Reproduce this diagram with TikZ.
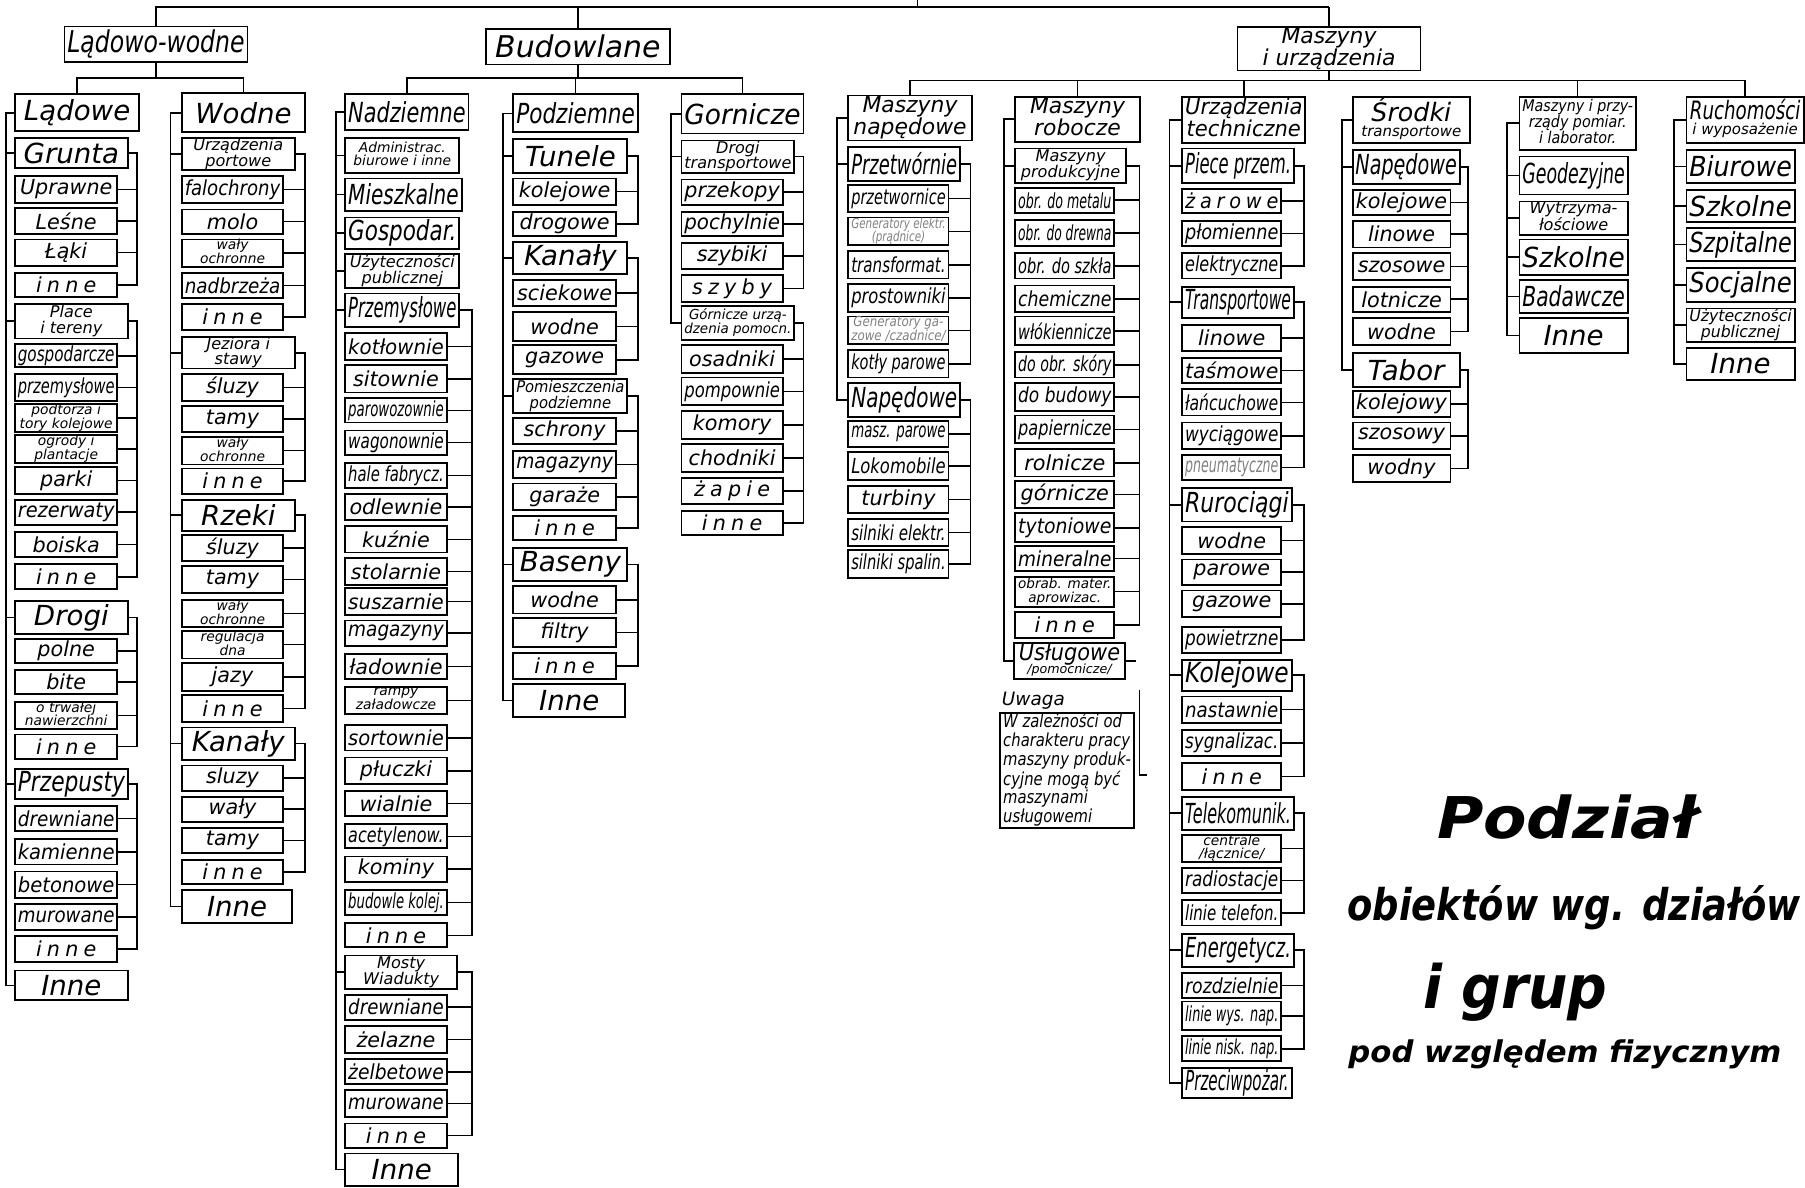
\documentclass[tikz,border=0pt]{standalone}
\usepackage{fontspec}
\usepackage{graphicx}
\setmainfont{DejaVu Sans}[ItalicFont={DejaVu Sans Oblique},BoldFont={DejaVu Sans Bold},BoldItalicFont={DejaVu Sans Bold Oblique}]
\newsavebox\fitbox
\newcommand\fitw[2]{\sbox\fitbox{#2}\ifdim\wd\fitbox>#1\relax\resizebox{#1}{\height}{\usebox\fitbox}\else\usebox\fitbox\fi}
\newcommand\fsz[1]{\fontsize{#1}{#1}\selectfont}
\newcommand\mlines[1]{{\renewcommand\arraystretch{0.8}\begin{tabular}{@{}c@{}}#1\end{tabular}}}
\newcommand\lsp[1]{{\addfontfeature{LetterSpace=25}#1}}
\newcommand\bxx[7]{%
  \pgfmathsetmacro\bxW{(#4-#2)*0.5}%
  \pgfmathsetmacro\bxH{(#5-#3)*0.5}%
  \pgfmathsetmacro\bxT{(#4-#2)*0.5-2.5}%
  \node[bx,#6,minimum width=\bxW pt,minimum height=\bxH pt] (#1) at ({(#2+#4)/2},{(#3+#5)/2}) {\fitw{\bxT pt}{#7}};}
\newcommand\lbus[3]{\foreach \n in {#3}{\draw[ln] (\n.west) -- (\n.west -| #2) |- (#1.west);}}
\newcommand\rbus[3]{\foreach \n in {#3}{\draw[ln] (\n.east) -- (\n.east -| #2) |- (#1.east);}}
\tikzset{
  bx/.style={draw,line width=0.8pt,inner sep=0pt,outer sep=0pt},
  ln/.style={line width=0.7pt},
  fHD/.style={font={\fsz{13}\itshape}},
  fH/.style={font={\fsz{12}\itshape}},
  fN/.style={font={\fsz{9}\itshape}},
  fS/.style={font={\fsz{6}\itshape}},
  fSM/.style={font={\fsz{7}\itshape}},
  fM/.style={font={\fsz{9.5}\itshape}},
  fU/.style={font={\fontsize{7.8}{7.6}\selectfont\itshape}},
  fT/.style={font={\bfseries\itshape},inner sep=0pt,anchor=base west},
  faded/.style={text=black!50},
}
\begin{document}
\begin{tikzpicture}[x=0.5pt,y=-0.5pt]
\useasboundingbox (0,0) rectangle (1568,1032);
% ---------- top level
\bxx{LW}{56}{23}{215}{54}{fHD}{Lądowo-wodne}
\bxx{BU}{422}{25}{582}{56}{fHD}{Budowlane}
\bxx{MU}{1075}{27}{1234}{58}{fM}{\mlines{Maszyny\\i urządzenia}}
% ---------- Ladowe
\bxx{LAD}{13}{82}{121}{114}{fH}{Lądowe}
\bxx{A1}{13}{120}{111}{146}{fH}{Grunta}
\bxx{A1a}{13}{153}{102}{176}{fN}{Uprawne}
\bxx{A1b}{13}{181}{102}{203}{fN}{Leśne}
\bxx{A1c}{13}{208}{102}{231}{fN}{Łąki}
\bxx{A1d}{13}{237}{102}{258}{fN}{\lsp{inne}}
\bxx{A2}{13}{264}{111}{294}{fSM}{\mlines{Place\\i tereny}}
\bxx{A2a}{13}{299}{102}{319}{fN}{gospodarcze}
\bxx{A2b}{13}{325}{102}{348}{fN}{przemysłowe}
\bxx{A2c}{13}{352}{102}{374}{fS}{\mlines{podtorza i\\tory kolejowe}}
\bxx{A2d}{13}{379}{102}{401}{fS}{\mlines{ogrody i\\plantacje}}
\bxx{A2e}{13}{406}{102}{429}{fN}{parki}
\bxx{A2f}{13}{434}{102}{456}{fN}{rezerwaty}
\bxx{A2g}{13}{462}{102}{484}{fN}{boiska}
\bxx{A2h}{13}{490}{102}{512}{fN}{\lsp{inne}}
\bxx{A3}{13}{522}{111}{551}{fH}{Drogi}
\bxx{A3a}{13}{555}{102}{576}{fN}{polne}
\bxx{A3b}{13}{582}{102}{603}{fN}{bite}
\bxx{A3c}{13}{610}{102}{633}{fS}{\mlines{o trwałej\\nawierzchni}}
\bxx{A3d}{13}{638}{102}{659}{fN}{\lsp{inne}}
\bxx{A4}{13}{668}{111}{694}{fH}{Przepusty}
\bxx{A4a}{13}{700}{102}{722}{fN}{drewniane}
\bxx{A4b}{13}{729}{102}{751}{fN}{kamienne}
\bxx{A4c}{13}{757}{102}{780}{fN}{betonowe}
\bxx{A4d}{13}{785}{102}{808}{fN}{murowane}
\bxx{A4e}{13}{813}{102}{836}{fN}{\lsp{inne}}
\bxx{A5}{13}{843}{111}{869}{fH}{Inne}
% ---------- Wodne
\bxx{WOD}{158}{81}{265}{115}{fH}{Wodne}
\bxx{B1}{158}{120}{256}{148}{fSM}{\mlines{Urządzenia\\portowe}}
\bxx{B1a}{158}{153}{246}{176}{fN}{falochrony}
\bxx{B1b}{158}{182}{246}{203}{fN}{molo}
\bxx{B1c}{158}{209}{246}{231}{fS}{\mlines{wały\\ochronne}}
\bxx{B1d}{158}{237}{246}{259}{fN}{nadbrzeża}
\bxx{B1e}{158}{264}{246}{287}{fN}{\lsp{inne}}
\bxx{B2}{158}{293}{256}{320}{fSM}{\mlines{Jeziora i\\stawy}}
\bxx{B2a}{158}{325}{246}{348}{fN}{śluzy}
\bxx{B2b}{158}{353}{246}{375}{fN}{tamy}
\bxx{B2c}{158}{381}{246}{402}{fS}{\mlines{wały\\ochronne}}
\bxx{B2d}{158}{407}{246}{429}{fN}{\lsp{inne}}
\bxx{B3}{158}{434}{256}{461}{fH}{Rzeki}
\bxx{B3a}{158}{465}{246}{487}{fN}{śluzy}
\bxx{B3b}{158}{492}{246}{515}{fN}{tamy}
\bxx{B3c}{158}{522}{246}{544}{fS}{\mlines{wały\\ochronne}}
\bxx{B3d}{158}{549}{246}{571}{fS}{\mlines{regulacja\\dna}}
\bxx{B3e}{158}{576}{246}{600}{fN}{jazy}
\bxx{B3f}{158}{604}{246}{627}{fN}{\lsp{inne}}
\bxx{B4}{158}{632}{256}{660}{fH}{Kanały}
\bxx{B4a}{158}{665}{246}{687}{fN}{sluzy}
\bxx{B4b}{158}{692}{246}{714}{fN}{wały}
\bxx{B4c}{158}{719}{246}{741}{fN}{tamy}
\bxx{B4d}{158}{747}{246}{768}{fN}{\lsp{inne}}
\bxx{B5}{158}{773}{254}{802}{fH}{Inne}
% ---------- Nadziemne
\bxx{NAD}{300}{82}{407}{113}{fH}{Nadziemne}
\bxx{C1}{300}{120}{399}{150}{fS}{\mlines{Administrac.\\biurowe i inne}}
\bxx{C2}{300}{155}{401}{183}{fH}{Mieszkalne}
\bxx{C3}{300}{189}{399}{216}{fH}{Gospodar.}
\bxx{C4}{300}{221}{399}{250}{fSM}{\mlines{Użyteczności\\publicznej}}
\bxx{C5}{300}{255}{399}{284}{fH}{Przemysłowe}
\bxx{C5a}{300}{289}{388}{313}{fN}{kotłownie}
\bxx{C5b}{300}{317}{388}{341}{fN}{sitownie}
\bxx{C5c}{300}{346}{388}{367}{fN}{parowozownie}
\bxx{C5d}{300}{374}{388}{395}{fN}{wagonownie}
\bxx{C5e}{300}{402}{388}{424}{fN}{hale fabrycz.}
\bxx{C5f}{300}{429}{388}{452}{fN}{odlewnie}
\bxx{C5g}{300}{457}{388}{480}{fN}{kuźnie}
\bxx{C5h}{300}{485}{388}{508}{fN}{stolarnie}
\bxx{C5i}{300}{511}{388}{534}{fN}{suszarnie}
\bxx{C5j}{300}{539}{388}{561}{fN}{magazyny}
\bxx{C5k}{300}{568}{388}{590}{fN}{ładownie}
\bxx{C5l}{300}{597}{388}{620}{fS}{\mlines{rampy\\załadowcze}}
\bxx{C5m}{300}{630}{388}{652}{fN}{sortownie}
\bxx{C5n}{300}{658}{388}{681}{fN}{płuczki}
\bxx{C5o}{300}{687}{388}{709}{fN}{wialnie}
\bxx{C5p}{300}{716}{388}{737}{fN}{acetylenow.}
\bxx{C5q}{300}{744}{388}{766}{fN}{kominy}
\bxx{C5r}{300}{773}{388}{795}{fN}{budowle kolej.}
\bxx{C5s}{300}{802}{388}{823}{fN}{\lsp{inne}}
\bxx{C6}{300}{830}{397}{859}{fSM}{\mlines{Mosty\\Wiadukty}}
\bxx{C6a}{300}{864}{388}{886}{fN}{drewniane}
\bxx{C6b}{300}{891}{388}{915}{fN}{żelazne}
\bxx{C6c}{300}{920}{388}{942}{fN}{żelbetowe}
\bxx{C6d}{300}{947}{388}{970}{fN}{murowane}
\bxx{C6e}{300}{976}{388}{997}{fN}{\lsp{inne}}
\bxx{C7}{300}{1002}{398}{1030}{fH}{Inne}
% ---------- Podziemne
\bxx{POD}{446}{82}{554}{115}{fH}{Podziemne}
\bxx{D1}{446}{121}{545}{150}{fH}{Tunele}
\bxx{D1a}{446}{155}{535}{178}{fN}{kolejowe}
\bxx{D1b}{446}{184}{535}{205}{fN}{drogowe}
\bxx{D2}{446}{210}{545}{238}{fH}{Kanały}
\bxx{D2a}{446}{243}{535}{266}{fN}{sciekowe}
\bxx{D2b}{446}{271}{535}{296}{fN}{wodne}
\bxx{D2c}{446}{300}{535}{325}{fN}{gazowe}
\bxx{D3}{446}{329}{545}{359}{fSM}{\mlines{Pomieszczenia\\podziemne}}
\bxx{D3a}{446}{363}{535}{386}{fN}{schrony}
\bxx{D3b}{446}{392}{535}{415}{fN}{magazyny}
\bxx{D3c}{446}{420}{535}{443}{fN}{garaże}
\bxx{D3d}{446}{448}{535}{469}{fN}{\lsp{inne}}
\bxx{D4}{446}{476}{545}{505}{fH}{Baseny}
\bxx{D4a}{446}{509}{535}{533}{fN}{wodne}
\bxx{D4b}{446}{537}{535}{562}{fN}{filtry}
\bxx{D4c}{446}{567}{535}{590}{fN}{\lsp{inne}}
\bxx{D5}{446}{594}{543}{623}{fH}{Inne}
% ---------- Gornicze
\bxx{GOR}{592}{82}{698}{116}{fH}{Gornicze}
\bxx{E1}{592}{122}{690}{150}{fSM}{\mlines{Drogi\\transportowe}}
\bxx{E1a}{592}{156}{680}{178}{fN}{przekopy}
\bxx{E1b}{592}{184}{680}{205}{fN}{pochylnie}
\bxx{E1c}{592}{211}{680}{234}{fN}{szybiki}
\bxx{E1d}{592}{239}{680}{262}{fN}{\lsp{szyby}}
\bxx{E2}{592}{266}{690}{295}{fS}{\mlines{Górnicze urzą-\\dzenia pomocn.}}
\bxx{E2a}{592}{300}{680}{324}{fN}{osadniki}
\bxx{E2b}{592}{328}{680}{352}{fN}{pompownie}
\bxx{E2c}{592}{357}{680}{381}{fN}{komory}
\bxx{E2d}{592}{386}{680}{410}{fN}{chodniki}
\bxx{E2e}{592}{415}{680}{438}{fN}{\lsp{żapie}}
\bxx{E2f}{592}{444}{680}{465}{fN}{\lsp{inne}}
% ---------- Maszyny napedowe
\bxx{MN}{737}{83}{844}{122}{fM}{\mlines{Maszyny\\napędowe}}
\bxx{F1}{737}{128}{834}{157}{fH}{Przetwórnie}
\bxx{F1a}{737}{161}{824}{184}{fN}{przetwornice}
\bxx{F1b}{737}{189}{824}{213}{fS,faded}{\mlines{Generatory elektr.\\(prądnice)}}
\bxx{F1c}{737}{218}{824}{242}{fN}{transformat.}
\bxx{F1d}{737}{247}{824}{271}{fN}{prostowniki}
\bxx{F1e}{737}{275}{824}{299}{fS,faded}{\mlines{Generatory ga-\\zowe /czadnice/}}
\bxx{F1f}{737}{304}{824}{328}{fN}{kotły parowe}
\bxx{F2}{737}{333}{834}{362}{fH}{Napędowe}
\bxx{F2a}{737}{366}{824}{388}{fN}{masz. parowe}
\bxx{F2b}{737}{393}{824}{417}{fN}{Lokomobile}
\bxx{F2c}{737}{422}{824}{446}{fN}{turbiny}
\bxx{F2d}{737}{451}{824}{474}{fN}{silniki elektr.}
\bxx{F2e}{737}{478}{824}{502}{fN}{silniki spalin.}
% ---------- Maszyny robocze
\bxx{MR}{882}{84}{990}{123}{fM}{\mlines{Maszyny\\robocze}}
\bxx{G1}{882}{129}{978}{159}{fSM}{\mlines{Maszyny\\produkcyjne}}
\bxx{G1a}{882}{163}{968}{185}{fN}{obr. do metalu}
\bxx{G1b}{882}{191}{968}{214}{fN}{obr. do drewna}
\bxx{G1c}{882}{220}{968}{242}{fN}{obr. do szkła}
\bxx{G1d}{882}{248}{968}{271}{fN}{chemiczne}
\bxx{G1e}{882}{275}{968}{300}{fN}{włókiennicze}
\bxx{G1f}{882}{306}{968}{328}{fN}{do obr. skóry}
\bxx{G1g}{882}{333}{968}{357}{fN}{do budowy}
\bxx{G1h}{882}{361}{968}{385}{fN}{papiernicze}
\bxx{G1i}{882}{390}{968}{414}{fN}{rolnicze}
\bxx{G1j}{882}{418}{968}{441}{fN}{górnicze}
\bxx{G1k}{882}{446}{968}{471}{fN}{tytoniowe}
\bxx{G1l}{882}{474}{968}{496}{fN}{mineralne}
\bxx{G1m}{882}{501}{968}{527}{fS}{\mlines{obrab. mater.\\aprowizac.}}
\bxx{G1n}{882}{532}{968}{554}{fN}{\lsp{inne}}
\bxx{G2}{881}{559}{977}{589}{fM}{\mlines{\fitw{44pt}{\fsz{10}Usługowe}\\[-2pt]{\fsz{5.5}/pomocnicze/}}}
% ---------- Uwaga
\node[font={\fsz{8}\itshape},anchor=base west,inner sep=0pt] (UWt) at (870,613) {\underline{Uwaga}};
\bxx{UB}{869}{620}{985}{719}{fU}{\begin{tabular}{@{}l@{}}W zależności od\\charakteru pracy\\maszyny produk-\\cyjne mogą być\\maszynami\\usługowemi\end{tabular}}
% ---------- Urzadzenia techniczne
\bxx{UT}{1027}{84}{1134}{124}{fM}{\mlines{Urządzenia\\techniczne}}
\bxx{H1}{1027}{129}{1124}{159}{fH}{Piece przem.}
\bxx{H1a}{1027}{164}{1113}{185}{fN}{\lsp{żarowe}}
\bxx{H1b}{1027}{192}{1113}{214}{fN}{płomienne}
\bxx{H1c}{1027}{220}{1113}{242}{fN}{elektryczne}
\bxx{H2}{1027}{249}{1124}{276}{fH}{Transportowe}
\bxx{H2a}{1027}{282}{1113}{305}{fN}{linowe}
\bxx{H2b}{1027}{311}{1113}{333}{fN}{taśmowe}
\bxx{H2c}{1027}{338}{1113}{361}{fN}{łańcuchowe}
\bxx{H2d}{1027}{367}{1113}{390}{fN}{wyciągowe}
\bxx{H2e}{1027}{395}{1113}{417}{fN,faded}{pneumatyczne}
\bxx{H3}{1027}{424}{1122}{453}{fH}{Rurociągi}
\bxx{H3a}{1027}{458}{1113}{481}{fN}{wodne}
\bxx{H3b}{1027}{486}{1113}{508}{fN}{parowe}
\bxx{H3c}{1027}{513}{1113}{536}{fN}{gazowe}
\bxx{H3d}{1027}{545}{1113}{567}{fN}{powietrzne}
\bxx{H4}{1027}{573}{1122}{600}{fH}{Kolejowe}
\bxx{H4a}{1027}{605}{1113}{628}{fN}{nastawnie}
\bxx{H4b}{1027}{634}{1113}{657}{fN}{sygnalizac.}
\bxx{H4c}{1027}{663}{1113}{686}{fN}{\lsp{inne}}
\bxx{H5}{1027}{692}{1124}{721}{fH}{Telekomunik.}
\bxx{H5a}{1027}{725}{1113}{749}{fS}{\mlines{centrale\\/łącznice/}}
\bxx{H5b}{1027}{754}{1113}{776}{fN}{radiostacje}
\bxx{H5c}{1027}{782}{1113}{804}{fN}{linie telefon.}
\bxx{H6}{1027}{811}{1124}{840}{fH}{Energetycz.}
\bxx{H6a}{1027}{845}{1113}{867}{fN}{rozdzielnie}
\bxx{H6b}{1027}{870}{1113}{895}{fN}{linie wys. nap.}
\bxx{H6c}{1027}{900}{1113}{922}{fN}{linie nisk. nap.}
\bxx{H7}{1027}{928}{1122}{954}{fH}{Przeciwpożar.}
% ---------- Srodki transportowe
\bxx{ST}{1175}{84}{1277}{124}{fM}{\mlines{\fitw{48pt}{\fsz{11}Środki}\\[-1pt]\fitw{48pt}{\fsz{6.5}transportowe}}}
\bxx{I1}{1175}{130}{1268}{160}{fH}{Napędowe}
\bxx{I1a}{1175}{165}{1260}{187}{fN}{kolejowe}
\bxx{I1b}{1175}{192}{1260}{215}{fN}{linowe}
\bxx{I1c}{1175}{220}{1260}{243}{fN}{szosowe}
\bxx{I1d}{1175}{249}{1260}{271}{fN}{lotnicze}
\bxx{I1e}{1175}{276}{1260}{300}{fN}{wodne}
\bxx{I2}{1175}{307}{1268}{336}{fH}{Tabor}
\bxx{I2a}{1175}{340}{1260}{362}{fN}{kolejowy}
\bxx{I2b}{1175}{367}{1260}{390}{fN}{szosowy}
\bxx{I2c}{1175}{395}{1260}{419}{fN}{wodny}
% ---------- Maszyny i przyrzady pomiarowe
\bxx{MP}{1320}{84}{1421}{130}{fSM}{\mlines{Maszyny i przy-\\rządy pomiar.\\i laborator.}}
\bxx{J1}{1320}{136}{1414}{169}{fH}{Geodezyjne}
\bxx{J2}{1320}{175}{1414}{204}{fSM}{\mlines{Wytrzyma-\\łościowe}}
\bxx{J3}{1320}{208}{1414}{239}{fH}{Szkolne}
\bxx{J4}{1320}{243}{1414}{272}{fH}{Badawcze}
\bxx{J5}{1320}{276}{1414}{307}{fH}{Inne}
% ---------- Ruchomosci
\bxx{RU}{1465}{84}{1567}{124}{fM}{\mlines{\fitw{48pt}{\fsz{11}Ruchomości}\\[-1pt]\fitw{48pt}{\fsz{6.5}i wyposażenie}}}
\bxx{K1}{1465}{130}{1559}{159}{fH}{Biurowe}
\bxx{K2}{1465}{165}{1559}{193}{fH}{Szkolne}
\bxx{K3}{1465}{198}{1559}{227}{fH}{Szpitalne}
\bxx{K4}{1465}{233}{1559}{262}{fH}{Socjalne}
\bxx{K5}{1465}{268}{1559}{297}{fSM}{\mlines{Użyteczności\\publicznej}}
\bxx{K6}{1465}{302}{1559}{330}{fH}{Inne}
% ---------- title
\node[fT] (T1) at (1248,728) {\fsz{25}\resizebox{113pt}{\height}{Podział}};
\node[fT] (T2) at (1170,800) {\fsz{19}\resizebox{197pt}{\height}{obiektów wg. działów}};
\node[fT] (T3) at (1236,876) {\fsz{26}\resizebox{80pt}{\height}{i grup}};
\node[fT] (T4) at (1171,923) {\fsz{13}\resizebox{188pt}{\height}{pod względem fizycznym}};
% ---------- coordinates
\coordinate (top) at (0,6);
\coordinate (root) at (797,0);
\coordinate (lv1) at (0,68);
\coordinate (lv2) at (0,70);
\coordinate (bA) at (5,0);    \coordinate (rA) at (119,0);
\coordinate (bB) at (148,0);  \coordinate (rB) at (265,0);
\coordinate (bC) at (292,0);  \coordinate (rC) at (410,0);
\coordinate (bD) at (437,0);  \coordinate (rD) at (554,0);
\coordinate (bE) at (583,0);  \coordinate (rE) at (698,0);
\coordinate (bF) at (727,0);  \coordinate (rF) at (843,0);
\coordinate (bG) at (872,0);  \coordinate (rG) at (990,0);
\coordinate (bH) at (1016,0); \coordinate (rH) at (1133,0);
\coordinate (bI) at (1166,0); \coordinate (rI) at (1275,0);
\coordinate (bJ) at (1309,0);
\coordinate (bK) at (1454,0);
% ---------- top connectors
\draw[ln] (LW.north) |- (MU.north |- top);
\draw[ln] (BU.north) -- (BU.north |- top);
\draw[ln] (MU.north) -- (MU.north |- top);
\draw[ln] (root) -- (root |- top);
\draw[ln] (LW.south) -- (LW.south |- lv1);
\draw[ln] (LAD.north) |- (WOD.north |- lv1) -- (WOD.north);
\draw[ln] (BU.south) -- (BU.south |- lv1);
\draw[ln] (NAD.north) |- (GOR.north |- lv1) -- (GOR.north);
\draw[ln] (POD.north) -- (POD.north |- lv1);
\draw[ln] (MU.south) -- (MU.south |- lv2);
\draw[ln] (MN.north) |- (RU.north |- lv2) -- (RU.north);
\foreach \n in {MR,UT,MP} {\draw[ln] (\n.north) -- (\n.north |- lv2);}
% ---------- column buses
\lbus{LAD}{bA}{A1,A2,A3,A4,A5}
\rbus{A1}{rA}{A1a,A1b,A1c,A1d}
\rbus{A2}{rA}{A2a,A2b,A2c,A2d,A2e,A2f,A2g,A2h}
\rbus{A3}{rA}{A3a,A3b,A3c,A3d}
\rbus{A4}{rA}{A4a,A4b,A4c,A4d,A4e}
\lbus{WOD}{bB}{B1,B2,B3,B4,B5}
\rbus{B1}{rB}{B1a,B1b,B1c,B1d,B1e}
\rbus{B2}{rB}{B2a,B2b,B2c,B2d}
\rbus{B3}{rB}{B3a,B3b,B3c,B3d,B3e,B3f}
\rbus{B4}{rB}{B4a,B4b,B4c,B4d}
\lbus{NAD}{bC}{C1,C2,C3,C4,C5,C6,C7}
\rbus{C5}{rC}{C5a,C5b,C5c,C5d,C5e,C5f,C5g,C5h,C5i,C5j,C5k,C5l,C5m,C5n,C5o,C5p,C5q,C5r,C5s}
\rbus{C6}{rC}{C6a,C6b,C6c,C6d,C6e}
\lbus{POD}{bD}{D1,D2,D3,D4,D5}
\rbus{D1}{rD}{D1a,D1b}
\rbus{D2}{rD}{D2a,D2b,D2c}
\rbus{D3}{rD}{D3a,D3b,D3c,D3d}
\rbus{D4}{rD}{D4a,D4b,D4c}
\lbus{GOR}{bE}{E1,E2}
\rbus{E1}{rE}{E1a,E1b,E1c,E1d}
\rbus{E2}{rE}{E2a,E2b,E2c,E2d,E2e,E2f}
\lbus{MN}{bF}{F1,F2}
\rbus{F1}{rF}{F1a,F1b,F1c,F1d,F1e,F1f}
\rbus{F2}{rF}{F2a,F2b,F2c,F2d,F2e}
\lbus{MR}{bG}{G1,G2}
\rbus{G1}{rG}{G1a,G1b,G1c,G1d,G1e,G1f,G1g,G1h,G1i,G1j,G1k,G1l,G1m,G1n}
\lbus{UT}{bH}{H1,H2,H3,H4,H5,H6,H7}
\rbus{H1}{rH}{H1a,H1b,H1c}
\rbus{H2}{rH}{H2a,H2b,H2c,H2d,H2e}
\rbus{H3}{rH}{H3a,H3b,H3c,H3d}
\rbus{H4}{rH}{H4a,H4b,H4c}
\rbus{H5}{rH}{H5a,H5b,H5c}
\rbus{H6}{rH}{H6a,H6b,H6c}
\lbus{ST}{bI}{I1,I2}
\rbus{I1}{rI}{I1a,I1b,I1c,I1d,I1e}
\rbus{I2}{rI}{I2a,I2b,I2c}
\lbus{MP}{bJ}{J1,J2,J3,J4,J5}
\lbus{RU}{bK}{K1,K2,K3,K4,K5,K6}
% ---------- odd strokes near Uwaga
\coordinate (g2t) at (987,574);
\draw[ln] (G2.east) -- (g2t);
\coordinate (v1) at (990,599);
\coordinate (v2) at (990,673);
\coordinate (v3) at (996,673);
\draw[ln] (v1) -- (v2) -- (v3);
\end{tikzpicture}
\end{document}
